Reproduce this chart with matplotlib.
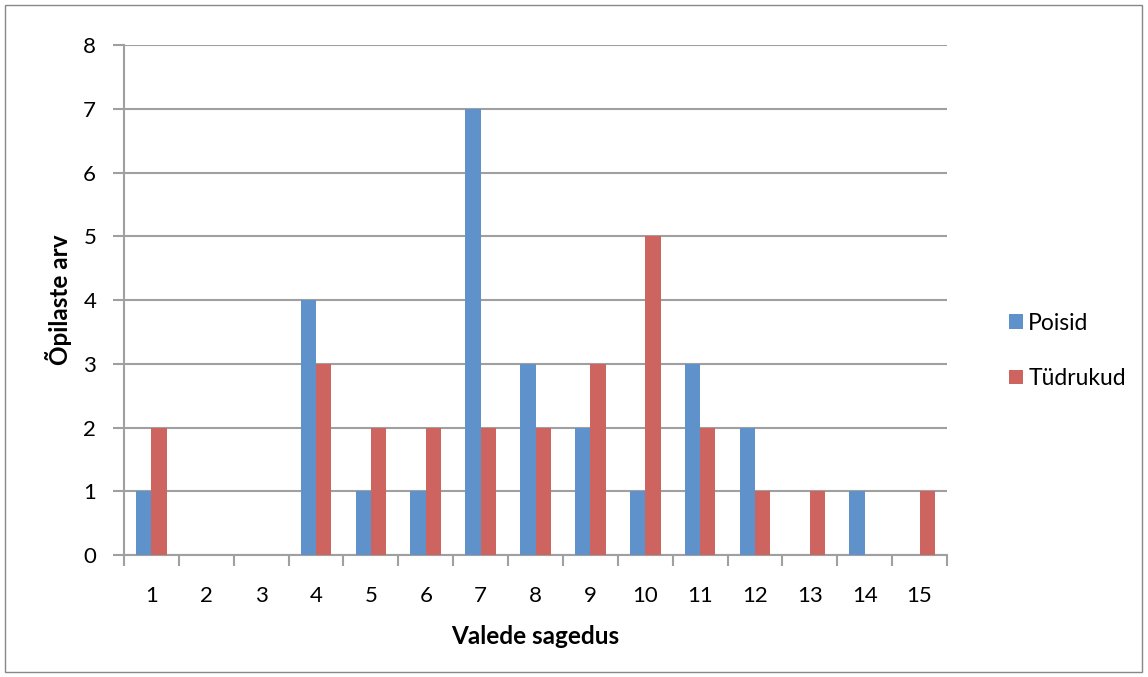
import numpy as np
import matplotlib
matplotlib.use("Agg")
import matplotlib.pyplot as plt
from matplotlib.patches import Rectangle

categories = list(range(1, 16))
poisid = [1, 0, 0, 4, 1, 1, 7, 3, 2, 1, 3, 2, 0, 1, 0]
tudrukud = [2, 0, 0, 3, 2, 2, 2, 2, 3, 5, 2, 1, 1, 0, 1]
y_ticks = list(range(0, 9))

plt.rcParams['font.family'] = ['Lato', 'DejaVu Sans']

fig = plt.figure(figsize=(11.48, 6.77), dpi=100)
ax = fig.add_axes([124 / 1148, 1 - 555 / 677, 823 / 1148, 510 / 677])

x = np.arange(len(categories))
w = 0.28
ax.bar(x - w / 2, poisid, w, color='#5F91CA', label='Poisid', zorder=3)
ax.bar(x + w / 2, tudrukud, w, color='#CD645F', label='Tüdrukud', zorder=3)

ax.set_xlim(-0.5, len(categories) - 0.5)
ax.set_ylim(0, 8)
ax.set_yticks(y_ticks)
ax.set_yticklabels([str(v) for v in y_ticks], fontsize=16)
ax.set_xticks(np.arange(len(categories) + 1) - 0.5)
ax.set_xticklabels([])
ax.set_xticks(x, minor=True)
ax.set_xticklabels([str(c) for c in categories], minor=True, fontsize=16)
ax.tick_params(axis='x', which='minor', length=0, pad=22)
ax.tick_params(axis='x', which='major', length=8, color='#A0A0A0', width=1.5)
ax.tick_params(axis='y', length=8, color='#A0A0A0', width=1.5, pad=12)

ax.yaxis.grid(True, color='#A0A0A0', linewidth=1.5, zorder=0)
for s in ['top', 'right']:
    ax.spines[s].set_visible(False)
for s in ['left', 'bottom']:
    ax.spines[s].set_color('#A0A0A0')
    ax.spines[s].set_linewidth(1.5)

ax.set_xlabel('Valede sagedus', fontsize=17.5, fontweight='bold', labelpad=14)
ax.set_ylabel('Õpilaste arv', fontsize=17.5, fontweight='bold', labelpad=8)

leg = ax.legend(loc='center left', bbox_to_anchor=(1.05, 0.40), frameon=False,
                fontsize=16.5, handlelength=0.6, handleheight=0.6,
                handletextpad=0.25, labelspacing=1.5)

fig.patches.append(Rectangle((5 / 1148, 5 / 677), 1137 / 1148, 667 / 677,
                             transform=fig.transFigure, fill=False,
                             edgecolor='#888888', linewidth=1))

fig.savefig('out.png', dpi=100)
